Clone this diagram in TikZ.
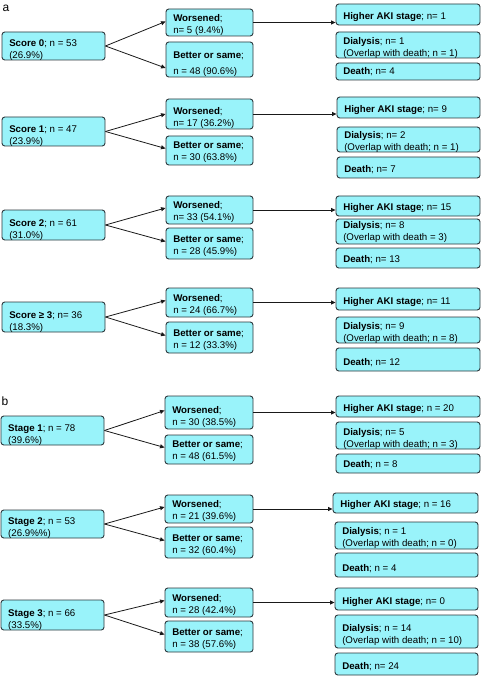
\documentclass[tikz,border=0pt]{standalone}
\usepackage{fontspec}
\setmainfont{Liberation Sans}
\usetikzlibrary{arrows.meta,calc}
\definecolor{boxfill}{RGB}{153,243,250}
\definecolor{boxline}{RGB}{45,55,60}
\tikzset{
  bx/.style={draw=boxline, fill=boxfill, line width=0.9pt, rounded corners=2.8pt, inner sep=0pt},
  txt/.style={anchor=base west, inner sep=0pt, font=\fontsize{9.7}{11.6}\selectfont, text=black},
  lbl/.style={anchor=base west, inner sep=0pt, font=\fontsize{12}{14}\selectfont},
  arr/.style={draw=black!90, line width=0.8pt, -{Triangle[length=4.5pt,width=4pt]}}
}
% box: name, x1, y1, x2, y2 (pixel coordinates, y downward)
\newcommand\mybx[5]{\node[bx, minimum width={#4-#2}, minimum height={#5-#3}] (#1) at ({(#2+#4)/2},{(#3+#5)/2}) {};}
% two-line text: name, distance of 2nd baseline from bottom, line1, line2
\newcommand\mytwo[4]{%
  \node[txt] (#1a) at ([shift={(7.5,-#2-12)}]#1.south west) {#3};
  \node[txt] (#1b) at ([shift={(7.5,-#2)}]#1.south west) {#4};}
% one-line text
\newcommand\myone[2]{\node[txt] (#1a) at ([shift={(7.5,-5.5)}]#1.south west) {#2};}
\begin{document}
\begin{tikzpicture}[x=1pt,y=-1pt]
\useasboundingbox[fill=white] (0,0) rectangle (482,676);
\node[lbl] (la) at (2.5,11.7) {a};
\node[lbl] (lb) at (1.5,405) {b};
% ---------------- Score 0
\mybx{s0}{2}{32}{105}{60}
\mybx{w0}{166}{9}{253}{36}
\mybx{b0}{166}{42}{253}{77}
\mybx{h0}{336}{4}{480}{25}
\mybx{d0}{336}{32}{480}{58}
\mybx{x0}{336}{63}{480}{80}
\mytwo{s0}{1.5}{\textbf{Score 0}; n = 53}{(26.9\%)}
\mytwo{w0}{2.7}{\textbf{Worsened};}{n= 5 (9.4\%)}
\node[txt] (b0a) at ([shift={(7.5,-19)}]b0.south west) {\textbf{Better or same};};
\node[txt] (b0b) at ([shift={(7.5,-3)}]b0.south west) {n = 48 (90.6\%)};
\myone{h0}{\textbf{Higher AKI stage}; n= 1}
\mytwo{d0}{1.6}{\textbf{Dialysis}; n= 1}{(Overlap with death; n = 1)}
\myone{x0}{\textbf{Death}; n= 4}
\draw[arr] (s0.east) -- ([yshift=1pt]w0.west);
\draw[arr] (s0.east) -- ([yshift=-8.5pt]b0.west);
\draw[arr] (w0.east) -- (w0.east -| h0.west);
% ---------------- Score 1
\mybx{s1}{2}{117}{105}{146}
\mybx{w1}{166}{99}{253}{129}
\mybx{b1}{166}{136}{253}{165}
\mybx{h1}{337}{97}{480}{118}
\mybx{d1}{337}{127}{480}{152}
\mybx{x1}{337}{157}{480}{178}
\mytwo{s1}{1.5}{\textbf{Score 1}; n = 47}{(23.9\%)}
\mytwo{w1}{3}{\textbf{Worsened};}{n= 17 (36.2\%)}
\mytwo{b1}{4.5}{\textbf{Better or same};}{n = 30 (63.8\%)}
\myone{h1}{\textbf{Higher AKI stage}; n= 9}
\mytwo{d1}{1.6}{\textbf{Dialysis}; n= 2}{(Overlap with death; n = 1)}
\myone{x1}{\textbf{Death}; n= 7}
\draw[arr] (s1.east) -- (w1.west);
\draw[arr] (s1.east) -- ([yshift=2pt]b1.west);
\draw[arr] (w1.east) -- (w1.east -| h1.west);
% ---------------- Score 2
\mybx{s2}{2}{210}{105}{240}
\mybx{w2}{166}{196}{253}{224}
\mybx{b2}{166}{228}{253}{259}
\mybx{h2}{336}{196}{480}{216}
\mybx{d2}{336}{219}{480}{244}
\mybx{x2}{336}{248}{480}{268}
\mytwo{s2}{1.5}{\textbf{Score 2}; n = 61}{(31.0\%)}
\mytwo{w2}{3.5}{\textbf{Worsened};}{n= 33 (54.1\%)}
\mytwo{b2}{5}{\textbf{Better or same};}{n = 28 (45.9\%)}
\myone{h2}{\textbf{Higher AKI stage}; n= 15}
\mytwo{d2}{4}{\textbf{Dialysis}; n= 8}{(Overlap with death = 3)}
\myone{x2}{\textbf{Death}; n= 13}
\draw[arr] (s2.east) -- ([yshift=2pt]w2.west);
\draw[arr] (s2.east) -- ([yshift=2pt]b2.west);
\draw[arr] (w2.east) -- (w2.east -| h2.west);
% ---------------- Score >= 3
\mybx{s3}{2}{302}{105}{332}
\mybx{w3}{166}{288}{253}{317}
\mybx{b3}{166}{322}{253}{353}
\mybx{h3}{336}{288}{480}{310}
\mybx{d3}{336}{317}{480}{343}
\mybx{x3}{336}{348}{480}{371}
\mytwo{s3}{1.5}{\textbf{Score ≥ 3}; n= 36}{(18.3\%)}
\mytwo{w3}{3.5}{\textbf{Worsened};}{n = 24 (66.7\%)}
\mytwo{b3}{5}{\textbf{Better or same};}{n = 12 (33.3\%)}
\myone{h3}{\textbf{Higher AKI stage}; n= 11}
\mytwo{d3}{1.6}{\textbf{Dialysis}; n= 9}{(Overlap with death; n = 8)}
\myone{x3}{\textbf{Death}; n= 12}
\draw[arr] (s3.east) -- ([yshift=2pt]w3.west);
\draw[arr] (s3.east) -- ([yshift=2pt]b3.west);
\draw[arr] (w3.east) -- (w3.east -| h3.west);
% ---------------- Stage 1
\mybx{t1}{1}{416}{104}{445}
\mybx{tw1}{165}{396}{253}{429}
\mybx{tb1}{165}{435}{253}{464}
\mybx{th1}{336}{396}{480}{417}
\mybx{td1}{336}{422}{480}{449}
\mybx{tx1}{336}{454}{480}{473}
\mytwo{t1}{1.5}{\textbf{Stage 1}; n = 78}{(39.6\%)}
\mytwo{tw1}{4}{\textbf{Worsened};}{n = 30 (38.5\%)}
\mytwo{tb1}{5}{\textbf{Better or same};}{n = 48 (61.5\%)}
\myone{th1}{\textbf{Higher AKI stage}; n = 20}
\mytwo{td1}{1.6}{\textbf{Dialysis}; n= 5}{(Overlap with death; n = 3)}
\myone{tx1}{\textbf{Death}; n = 8}
\draw[arr] (t1.east) -- ([yshift=2pt]tw1.west);
\draw[arr] (t1.east) -- ([yshift=2pt]tb1.west);
\draw[arr] (tw1.east) -- (tw1.east -| th1.west);
% ---------------- Stage 2
\mybx{t2}{1}{510}{104}{538}
\mybx{tw2}{165}{495}{253}{523}
\mybx{tb2}{165}{527}{253}{558}
\mybx{th2}{333}{493}{478}{513}
\mybx{td2}{335}{522}{478}{549}
\mybx{tx2}{335}{553}{478}{577}
\mytwo{t2}{1.5}{\textbf{Stage 2}; n = 53}{(26.9\%\%)}
\mytwo{tw2}{3.5}{\textbf{Worsened};}{n = 21 (39.6\%)}
\mytwo{tb2}{5}{\textbf{Better or same};}{n = 32 (60.4\%)}
\myone{th2}{\textbf{Higher AKI stage}; n = 16}
\mytwo{td2}{3}{\textbf{Dialysis}; n = 1}{(Overlap with death; n = 0)}
\myone{tx2}{\textbf{Death}; n = 4}
\draw[arr] (t2.east) -- ([yshift=2pt]tw2.west);
\draw[arr] (t2.east) -- ([yshift=2pt]tb2.west);
\draw[arr] (tw2.east) -- (tw2.east -| th2.west);
% ---------------- Stage 3
\mybx{t3}{1}{600}{104}{630}
\mybx{tw3}{165}{588}{253}{617}
\mybx{tb3}{165}{621}{253}{652}
\mybx{th3}{335}{588}{478}{610}
\mybx{td3}{335}{615}{478}{648}
\mybx{tx3}{335}{653}{478}{675}
\mytwo{t3}{1.7}{\textbf{Stage 3}; n = 66}{(33.5\%)}
\mytwo{tw3}{3.5}{\textbf{Worsened};}{n = 28 (42.4\%)}
\mytwo{tb3}{5}{\textbf{Better or same};}{n = 38 (57.6\%)}
\myone{th3}{\textbf{Higher AKI stage}; n= 0}
\mytwo{td3}{5.3}{\textbf{Dialysis}; n = 14}{(Overlap with death; n = 10)}
\myone{tx3}{\textbf{Death}; n= 24}
\draw[arr] (t3.east) -- ([yshift=2pt]tw3.west);
\draw[arr] (t3.east) -- ([yshift=2pt]tb3.west);
\draw[arr] (tw3.east) -- (tw3.east -| th3.west);
\end{tikzpicture}
\end{document}
